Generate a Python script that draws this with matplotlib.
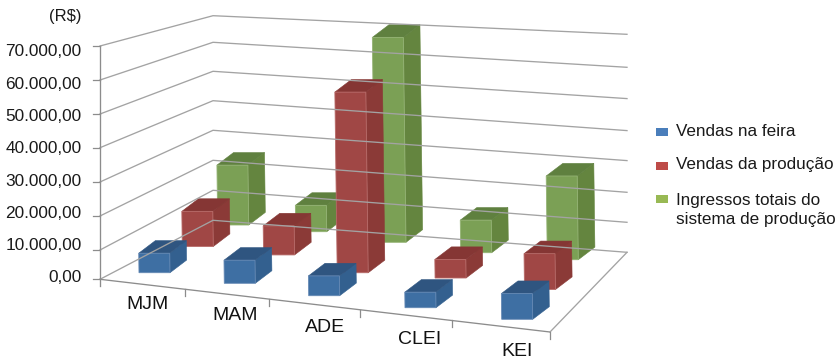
import numpy as np
import matplotlib
matplotlib.use("Agg")
import matplotlib.pyplot as plt
from matplotlib.patches import Polygon, Rectangle

plt.rcParams["font.family"] = ["Liberation Sans", "DejaVu Sans"]

# Chart data (R$)
categories = ["MJM", "MAM", "ADE", "CLEI", "KEI"]
vendas_feira = [5900, 7000, 6000, 4700, 7800]
vendas_producao = [11000, 9100, 56200, 5800, 11200]
ingressos_totais = [19300, 8500, 66100, 10500, 27000]
axis_ticks = [0, 10000, 20000, 30000, 40000, 50000, 60000, 70000]
axis_labels = ["0,00", "10.000,00", "20.000,00", "30.000,00",
               "40.000,00", "50.000,00", "60.000,00", "70.000,00"]
series_names = ["Vendas na feira", "Vendas da produção",
                "Ingressos totais do\nsistema de produção"]

# Pseudo-3D frame, in figure pixels
W, H = 839, 359
FRONT_TICK_X = np.array([100, 184.5, 269.3, 360, 451.7, 550])
COLUMN_X = [139, 224.3, 308.7, 405, 501.7]
COLUMN_Y = [272.7, 283.3, 295.7, 307.7, 319.3]
COLUMN_DEPTH_DX = [78.7, 71.4, 66.3, 55.7, 45.6]
COLUMN_DEPTH_DY = [-47.7, -51.6, -53.4, -55.0, -59.6]
WALL_FRONT_Y = [279.3, 250, 216, 182, 147.7, 114, 80, 46]
WALL_BACK_LEFT_Y = [220.3, 190.3, 160.3, 130.3, 100.7, 71.3, 42.3, 15.7]
WALL_BACK_RIGHT_Y = [252.3, 222.3, 192.3, 160.6, 130.6, 98.6, 67.3, 34.3]
FRONT_LEFT, FRONT_RIGHT = (100, 279.3), (550, 332)
BACK_LEFT_X, BACK_RIGHT_X = 213, 627

# Bar geometry: depth fraction of each series row, per category
DEPTH = [
    [0, 0, 0, 0, 0],
    [0.55, 0.55, 0.43, 0.54, 0.50],
    [1, 1, 1, 1, 1],
]
BAR_W = 31
SIDE_DX, SIDE_DY = 16.6, -12.6
LEAN = 0.013

FACE_COLORS = [
    ("#3E6FA3", "#33608F", "#2F5580", "#6488B4"),
    ("#A04745", "#8B3A37", "#853634", "#B76A68"),
    ("#7BA055", "#64853F", "#5F803F", "#94B374"),
]
LEGEND_COLORS = ["#4A7EBB", "#BE4B48", "#98B954"]


def floor_anchor(i, depth):
    """Front-left corner of a bar's footprint on the floor."""
    x = COLUMN_X[i] + depth * COLUMN_DEPTH_DX[i]
    y = COLUMN_Y[i] + depth * COLUMN_DEPTH_DY[i]
    return x, y


def px_height(value, depth):
    """Value to pixel height; rows further back are slightly foreshortened."""
    return value * (33.0 - 2.0 * depth) / 10000


def draw_bar(ax, i, value, depth, colors):
    front, side, top, edge = colors
    x, y = floor_anchor(i, depth)
    h = px_height(value, depth)
    lean = LEAN * h
    bl, br = (x, y), (x + BAR_W, y)
    tl, tr = (x - lean, y - h), (x - lean + BAR_W, y - h)
    shift = lambda p: (p[0] + SIDE_DX, p[1] + SIDE_DY)
    ax.add_patch(Polygon([br, shift(br), shift(tr), tr], fc=side, ec=side, lw=0.4))
    ax.add_patch(Polygon([tl, tr, shift(tr), shift(tl)], fc=top, ec=top, lw=0.4))
    ax.add_patch(Polygon([bl, br, tr, tl], fc=front, ec=edge, lw=0.6))


fig = plt.figure(figsize=(W / 100, H / 100), dpi=100)
ax = fig.add_axes([0, 0, 1, 1])
ax.set_xlim(0, W)
ax.set_ylim(H, 0)
ax.axis("off")

GRID = "#A3A3A3"
AXIS = "#8C8C8C"

# Gridlines on the left and back walls
for yf, yb, yr in zip(WALL_FRONT_Y, WALL_BACK_LEFT_Y, WALL_BACK_RIGHT_Y):
    ax.plot([FRONT_TICK_X[0], BACK_LEFT_X, BACK_RIGHT_X], [yf, yb, yr],
            color=GRID, lw=0.95, solid_joinstyle="miter")
    ax.plot([92.5, FRONT_TICK_X[0]], [yf, yf], color=AXIS, lw=0.9)

# Value axis and floor edges
ax.plot([100, 100], [WALL_FRONT_Y[-1], 286], color=AXIS, lw=0.95)
ax.plot([FRONT_LEFT[0], FRONT_RIGHT[0]], [FRONT_LEFT[1], FRONT_RIGHT[1]], color=AXIS, lw=0.95)
ax.plot([FRONT_RIGHT[0], BACK_RIGHT_X], [FRONT_RIGHT[1], WALL_BACK_RIGHT_Y[0]], color=GRID, lw=0.95)
front_edge_y = np.interp(FRONT_TICK_X, [FRONT_LEFT[0], FRONT_RIGHT[0]],
                         [FRONT_LEFT[1], FRONT_RIGHT[1]])
for x, y in zip(FRONT_TICK_X[1:], front_edge_y[1:]):
    ax.plot([x, x], [y, y + 7], color=AXIS, lw=0.9)

# Bars, rear row first so nearer rows overlap it
rows = [vendas_feira, vendas_producao, ingressos_totais]
for s in (2, 1, 0):
    for i, value in enumerate(rows[s]):
        draw_bar(ax, i, value, DEPTH[s][i], FACE_COLORS[s])

# Value axis labels
for k, label in enumerate(axis_labels):
    ax.text(81.5, 278 - 32.3 * k, label, ha="right", va="center",
            fontsize=12.4, color="#1a1a1a")
ax.text(81.5, 16.5, "(R$)", ha="right", va="center", fontsize=12, color="#1a1a1a")

# Category labels follow the front edge of the floor
for i, name in enumerate(categories):
    mid = (FRONT_TICK_X[i] + FRONT_TICK_X[i + 1]) / 2
    y = np.interp(mid, [FRONT_LEFT[0], FRONT_RIGHT[0]], [FRONT_LEFT[1], FRONT_RIGHT[1]])
    ax.text(mid + 5 + 2.8 * i, y + 20.5 + 1.2 * i, name, ha="center", va="center",
            fontsize=14, color="#111111")

# Legend
legend_y = [132, 166, 199]
text_y = [131.7, 165, 209.8]
for color, name, ys, yt in zip(LEGEND_COLORS, series_names, legend_y, text_y):
    ax.add_patch(Rectangle((656, ys - 4), 12, 8, fc=color, ec="none"))
    ax.text(676.5, yt, name, ha="left", va="center", fontsize=12.3,
            color="#1a1a1a", linespacing=1.3)

fig.savefig("out.png", dpi=100, facecolor="white")
